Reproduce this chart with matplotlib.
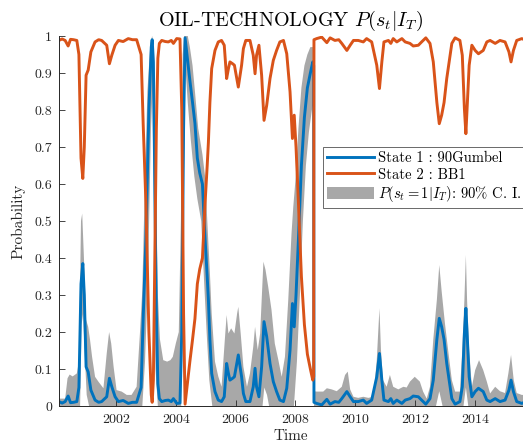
import matplotlib
matplotlib.use('Agg')
import matplotlib.pyplot as plt
import numpy as np

plt.rcParams['font.family'] = 'serif'
plt.rcParams['font.serif'] = ['cmr10']
plt.rcParams['mathtext.fontset'] = 'cm'
plt.rcParams['axes.formatter.use_mathtext'] = True

# smoothed probability of state 1 (90Gumbel)
t_state1 = [2000.09, 2000.20, 2000.30, 2000.40, 2000.48, 2000.58, 2000.69, 2000.76, 2000.83, 2000.89,
            2000.94, 2001.00, 2001.07, 2001.16, 2001.30, 2001.42, 2001.52, 2001.69, 2001.78, 2001.86,
            2001.97, 2002.08, 2002.24, 2002.41, 2002.55, 2002.69, 2002.84, 2002.91, 2003.00, 2003.10,
            2003.18, 2003.21, 2003.25, 2003.30, 2003.35, 2003.40, 2003.45, 2003.53, 2003.65, 2003.75,
            2003.85, 2003.92, 2004.03, 2004.14, 2004.20, 2004.26, 2004.31, 2004.40, 2004.47, 2004.56,
            2004.64, 2004.72, 2004.80, 2004.89, 2004.98, 2005.05, 2005.09, 2005.14, 2005.20, 2005.31,
            2005.42, 2005.53, 2005.62, 2005.70, 2005.76, 2005.81, 2005.90, 2005.96, 2006.09, 2006.20,
            2006.26, 2006.34, 2006.48, 2006.59, 2006.65, 2006.70, 2006.78, 2006.87, 2006.95, 2007.04,
            2007.15, 2007.26, 2007.37, 2007.48, 2007.60, 2007.71, 2007.82, 2007.90, 2007.96, 2008.02,
            2008.10, 2008.20, 2008.30, 2008.40, 2008.50, 2008.58, 2008.61, 2008.62, 2008.71, 2008.88,
            2009.05, 2009.16, 2009.32, 2009.45, 2009.55, 2009.72, 2009.83, 2009.94, 2010.10, 2010.27,
            2010.38, 2010.55, 2010.72, 2010.81, 2010.89, 2010.96, 2011.11, 2011.19, 2011.27, 2011.39,
            2011.56, 2011.67, 2011.83, 2011.94, 2012.11, 2012.22, 2012.36, 2012.50, 2012.61, 2012.73,
            2012.81, 2012.89, 2012.97, 2013.06, 2013.14, 2013.23, 2013.34, 2013.50, 2013.58, 2013.65,
            2013.70, 2013.74, 2013.81, 2013.90, 2014.01, 2014.12, 2014.28, 2014.40, 2014.51, 2014.68,
            2014.84, 2015.01, 2015.14, 2015.21, 2015.29, 2015.40, 2015.57, 2015.65]
p_state1 = [0.012, 0.008, 0.012, 0.027, 0.009, 0.010, 0.012, 0.050, 0.330, 0.385,
            0.300, 0.106, 0.092, 0.043, 0.016, 0.010, 0.012, 0.025, 0.075, 0.052,
            0.025, 0.012, 0.015, 0.007, 0.010, 0.010, 0.050, 0.240, 0.450, 0.800,
            0.970, 0.990, 0.930, 0.600, 0.250, 0.060, 0.020, 0.012, 0.015, 0.016,
            0.012, 0.020, 0.007, 0.008, 0.200, 0.750, 0.995, 0.930, 0.880, 0.820,
            0.764, 0.670, 0.630, 0.600, 0.450, 0.350, 0.287, 0.180, 0.088, 0.039,
            0.016, 0.012, 0.025, 0.115, 0.088, 0.070, 0.075, 0.079, 0.138, 0.079,
            0.034, 0.012, 0.012, 0.052, 0.102, 0.052, 0.025, 0.106, 0.228, 0.187,
            0.115, 0.066, 0.039, 0.016, 0.012, 0.048, 0.151, 0.277, 0.214, 0.300,
            0.450, 0.650, 0.780, 0.860, 0.900, 0.930, 0.920, 0.010, 0.007, 0.003,
            0.018, 0.005, 0.012, 0.010, 0.020, 0.039, 0.025, 0.012, 0.012, 0.016,
            0.007, 0.016, 0.079, 0.142, 0.070, 0.016, 0.012, 0.020, 0.007, 0.016,
            0.007, 0.016, 0.020, 0.027, 0.025, 0.016, 0.005, 0.020, 0.070, 0.180,
            0.237, 0.214, 0.180, 0.115, 0.070, 0.020, 0.005, 0.012, 0.052, 0.196,
            0.264, 0.196, 0.079, 0.025, 0.039, 0.048, 0.039, 0.016, 0.012, 0.020,
            0.012, 0.016, 0.043, 0.070, 0.039, 0.012, 0.007, 0.010]

# 90% band for P(s_t = 1 | I_T)
t_upper = [2000.09, 2000.30, 2000.38, 2000.45, 2000.55, 2000.69, 2000.76, 2000.83, 2000.87, 2000.94,
           2001.00, 2001.07, 2001.13, 2001.20, 2001.30, 2001.42, 2001.58, 2001.69, 2001.77, 2001.84,
           2001.92, 2002.02, 2002.19, 2002.36, 2002.52, 2002.69, 2002.80, 2002.88, 2002.95, 2003.05,
           2003.15, 2003.21, 2003.27, 2003.33, 2003.40, 2003.47, 2003.58, 2003.71, 2003.82, 2003.90,
           2004.00, 2004.10, 2004.17, 2004.23, 2004.28, 2004.40, 2004.47, 2004.56, 2004.64, 2004.75,
           2004.89, 2004.98, 2005.09, 2005.14, 2005.20, 2005.31, 2005.42, 2005.53, 2005.64, 2005.70,
           2005.76, 2005.85, 2005.96, 2006.05, 2006.09, 2006.17, 2006.26, 2006.38, 2006.48, 2006.59,
           2006.65, 2006.74, 2006.82, 2006.93, 2007.00, 2007.09, 2007.20, 2007.31, 2007.43, 2007.54,
           2007.65, 2007.76, 2007.87, 2007.93, 2008.01, 2008.10, 2008.20, 2008.30, 2008.40, 2008.50,
           2008.61, 2008.62, 2008.71, 2008.93, 2009.05, 2009.21, 2009.38, 2009.55, 2009.66, 2009.75,
           2009.83, 2009.94, 2010.10, 2010.27, 2010.44, 2010.61, 2010.72, 2010.81, 2010.86, 2010.93,
           2011.05, 2011.16, 2011.27, 2011.44, 2011.61, 2011.72, 2011.83, 2011.99, 2012.16, 2012.27,
           2012.39, 2012.50, 2012.61, 2012.73, 2012.81, 2012.89, 2013.00, 2013.12, 2013.23, 2013.34,
           2013.50, 2013.58, 2013.65, 2013.70, 2013.74, 2013.81, 2013.90, 2014.01, 2014.14, 2014.28,
           2014.40, 2014.51, 2014.68, 2014.84, 2015.01, 2015.12, 2015.21, 2015.30, 2015.40, 2015.57,
           2015.65]
ci_upper = [0.020, 0.020, 0.075, 0.085, 0.080, 0.088, 0.120, 0.500, 0.520, 0.376,
            0.233, 0.214, 0.180, 0.133, 0.079, 0.065, 0.048, 0.142, 0.200, 0.169,
            0.106, 0.043, 0.039, 0.030, 0.030, 0.052, 0.196, 0.313, 0.550, 0.850,
            0.980, 1.000, 0.970, 0.600, 0.300, 0.180, 0.124, 0.120, 0.124, 0.133,
            0.169, 0.200, 0.500, 0.950, 1.000, 1.000, 0.970, 0.920, 0.850, 0.750,
            0.680, 0.620, 0.440, 0.360, 0.250, 0.120, 0.080, 0.052, 0.180, 0.246,
            0.196, 0.210, 0.196, 0.250, 0.268, 0.196, 0.106, 0.052, 0.088, 0.160,
            0.214, 0.151, 0.196, 0.390, 0.368, 0.322, 0.260, 0.169, 0.124, 0.079,
            0.133, 0.286, 0.467, 0.540, 0.620, 0.750, 0.860, 0.920, 0.950, 0.970,
            0.970, 0.040, 0.039, 0.039, 0.048, 0.045, 0.040, 0.052, 0.084, 0.093,
            0.045, 0.025, 0.022, 0.025, 0.022, 0.025, 0.124, 0.264, 0.151, 0.070,
            0.052, 0.084, 0.052, 0.045, 0.052, 0.050, 0.066, 0.079, 0.066, 0.039,
            0.020, 0.052, 0.180, 0.287, 0.381, 0.310, 0.223, 0.142, 0.070, 0.039,
            0.039, 0.151, 0.286, 0.408, 0.286, 0.151, 0.052, 0.097, 0.124, 0.097,
            0.066, 0.034, 0.052, 0.040, 0.035, 0.088, 0.138, 0.070, 0.035, 0.030,
            0.030]
t_lower = [2000.09, 2000.80, 2000.85, 2000.90, 2000.95, 2001.02, 2001.10, 2002.88, 2002.97, 2003.07,
           2003.17, 2003.22, 2003.26, 2003.32, 2003.40, 2004.18, 2004.26, 2004.32, 2004.40, 2004.50,
           2004.62, 2004.72, 2004.85, 2004.95, 2005.03, 2005.12, 2005.22, 2006.90, 2006.96, 2007.05,
           2007.12, 2007.95, 2008.05, 2008.15, 2008.25, 2008.35, 2008.45, 2008.55, 2008.61, 2008.62,
           2012.70, 2012.81, 2012.92, 2013.62, 2013.70, 2013.78, 2015.65]
ci_lower = [0.0, 0.0, 0.22, 0.25, 0.15, 0.03, 0.0, 0.0, 0.12, 0.35,
            0.75, 0.85, 0.55, 0.10, 0.0, 0.0, 0.55, 0.92, 0.82, 0.72,
            0.62, 0.56, 0.50, 0.33, 0.20, 0.07, 0.0, 0.0, 0.05, 0.03,
            0.0, 0.0, 0.12, 0.30, 0.50, 0.65, 0.74, 0.80, 0.82, 0.0,
            0.0, 0.04, 0.0, 0.0, 0.05, 0.0, 0.0]

# the two regime probabilities sum to one
p_state2 = 1 - np.array(p_state1)

year_ticks = [2002, 2004, 2006, 2008, 2010, 2012, 2014]
prob_ticks = [0, 0.1, 0.2, 0.3, 0.4, 0.5, 0.6, 0.7, 0.8, 0.9, 1]
prob_labels = ['0', '0.1', '0.2', '0.3', '0.4', '0.5', '0.6', '0.7', '0.8', '0.9', '1']

blue = '#0072BD'
orange = '#D95319'
grey = '#a8a8a8'
axcol = '#262626'

fig = plt.figure(figsize=(5.23, 4.45), dpi=100)
ax = fig.add_axes([0.1128, 0.0876, 0.8872, 0.8315])

band = ax.fill(np.concatenate([t_upper, t_lower[::-1]]),
               np.concatenate([ci_upper, ci_lower[::-1]]),
               color=grey, lw=0)[0]
l1, = ax.plot(t_state1, p_state1, color=blue, lw=2.1)
l2, = ax.plot(t_state1, p_state2, color=orange, lw=2.1)

ax.set_xlim(2000.094, 2015.61)
ax.set_ylim(0, 1)
ax.set_xticks(year_ticks, [str(y) for y in year_ticks])
ax.set_yticks(prob_ticks, prob_labels)
ax.tick_params(direction='in', length=4, width=0.6, colors=axcol, labelsize=10)
ax.tick_params(axis='x', pad=6)
ax.tick_params(axis='y', pad=5)
for s in ['top', 'right']:
    ax.spines[s].set_visible(False)
for s in ['left', 'bottom']:
    ax.spines[s].set_color(axcol)
    ax.spines[s].set_linewidth(0.7)

ax.set_title(r'OIL-TECHNOLOGY $P(s_t|I_T)$', fontsize=14.5, pad=7)
ax.set_xlabel('Time', fontsize=11, color=axcol, labelpad=2)
ax.set_ylabel('Probability', fontsize=11, color=axcol, labelpad=6)

leg = ax.legend([l1, l2, band],
                ['State 1 : 90Gumbel', 'State 2 : BB1', r'$P(s_t=1|I_T)$: 90% C. I.'],
                loc='upper left', bbox_to_anchor=(323 / 523, 1 - 147 / 445),
                bbox_transform=fig.transFigure, fontsize=10.5, frameon=True,
                fancybox=False, handlelength=3.2, handleheight=0.9,
                handletextpad=0.3, labelspacing=0.15, borderpad=0.3,
                borderaxespad=0)
leg.get_frame().set_edgecolor(axcol)
leg.get_frame().set_linewidth(0.6)

fig.savefig('out.png', dpi=100)
